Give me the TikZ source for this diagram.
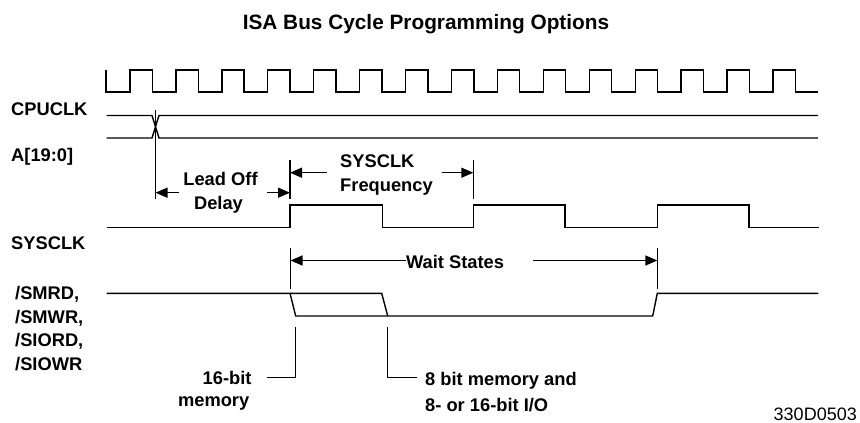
\documentclass[tikz,border=0pt]{standalone}
\usepackage{fontspec}
\setmainfont{Liberation Sans}
\usetikzlibrary{arrows.meta}
\begin{document}
\begin{tikzpicture}[x=1pt,y=-1pt,
  wave/.style={line width=1.4pt, line join=miter, line cap=butt},
  dimline/.style={line width=1.4pt},
  tip/.style={line width=1.4pt,-{Triangle[length=12pt,width=10pt]}},
  lbl/.style={inner sep=0pt, font=\fontsize{18.3}{22}\selectfont\bfseries},
  ttl/.style={inner sep=0pt, font=\fontsize{20.8}{24}\selectfont\bfseries},
  fig/.style={inner sep=0pt, font=\fontsize{18}{22}\selectfont},
]
\useasboundingbox (0,0) rectangle (860,423);

% title
\node[ttl, anchor=base] (title) at (426,30) {ISA Bus Cycle Programming Options};

% signal labels
\node[lbl, anchor=base west] (lcpu) at (11,115.5) {CPUCLK};
\node[lbl, anchor=base west] (laddr) at (11,161) {A[19:0]};
\node[lbl, anchor=base west] (lsys) at (11,249.5) {SYSCLK};
\node[lbl, anchor=base west] (l1) at (15,299.5) {/SMRD,};
\node[lbl, anchor=base west] (l2) at (15,323) {/SMWR,};
\node[lbl, anchor=base west] (l3) at (15,346.5) {/SIORD,};
\node[lbl, anchor=base west] (l4) at (15,370) {/SIOWR};

% CPU clock
\draw[wave] (106,70) -- (106,92)
  \foreach \k in {0,...,14} {
    -- ({130+45.93*\k},92) -- ({130+45.93*\k},70)
    -- ({152.3+45.93*\k},70) -- ({152.3+45.93*\k},92)
  } -- (818,92);

% address lines with crossing
\draw[wave] (106.7,115.5) -- (152,115.5) -- (159,138) -- (818,138);
\draw[wave] (106.7,138) -- (152,138) -- (159,115.5) -- (818,115.5);

% SYSCLK
\draw[wave] (106.7,227.3) -- (290,227.3) -- (290,205) -- (382.3,205) -- (382.3,227.3)
  -- (473.3,227.3) -- (473.3,205) -- (565,205) -- (565,227.3) -- (657.3,227.3)
  -- (657.3,205) -- (749,205) -- (749,227.3) -- (819,227.3);

% strobe signals
\draw[wave] (106.7,293.3) -- (290,293.3) -- (295.7,316) -- (652.7,316) -- (657.3,293.3) -- (818.3,293.3);
\draw[wave] (290,293.3) -- (381.7,293.3) -- (387.7,316);

% Lead off delay
\coordinate (loA) at (155.5,110);
\coordinate (loB) at (155.5,199);
\coordinate (loC) at (290,160);
\coordinate (loD) at (290,199);
\draw[dimline] (loA) -- (loB);
\draw[dimline] (loC) -- (loD);
\node[lbl, anchor=base] (lead1) at (220.5,185) {Lead Off};
\node[lbl, anchor=base] (lead2) at (218.5,209) {Delay};
\coordinate (loL) at (179,192.7);
\coordinate (loR) at (267,192.7);
\draw[tip] (loL) -- (155.5,192.7);
\draw[tip] (loR) -- (290,192.7);

% SYSCLK frequency
\coordinate (fqC) at (473.3,160);
\coordinate (fqD) at (473.3,199);
\draw[dimline] (fqC) -- (fqD);
\node[lbl, anchor=base west] (fq1) at (340,167.3) {SYSCLK};
\node[lbl, anchor=base west] (fq2) at (340,191.7) {Frequency};
\coordinate (fqL) at (326.7,172.7);
\coordinate (fqR) at (441.7,172.7);
\draw[tip] (fqL) -- (290,172.7);
\draw[tip] (fqR) -- (473.3,172.7);

% Wait states
\coordinate (wsA) at (290.5,248);
\coordinate (wsB) at (290.5,289);
\coordinate (wsC) at (657.3,248);
\coordinate (wsD) at (657.3,289);
\draw[dimline] (wsA) -- (wsB);
\draw[dimline] (wsC) -- (wsD);
\node[lbl, anchor=base] (ws) at (455,268.3) {Wait States};
\draw[tip] (ws.west |- 0,260.5) -- (290.5,260.5);
\draw[tip] (533,260.5) -- (657.3,260.5);

% leaders
\node[lbl, anchor=base east] (m16a) at (251.7,384) {16-bit};
\node[lbl, anchor=base] (m16b) at (213.7,406.7) {memory};
\draw[dimline] (295.7,326.7) -- (295.7,377.7) -- (266.7,377.7);
\node[lbl, anchor=base west] (m8a) at (425,385) {8 bit memory and};
\node[lbl, anchor=base west] (m8b) at (425,411.7) {8- or 16-bit I/O};
\draw[dimline] (387.7,326.7) -- (387.7,377.7) -- (416.7,377.7);

% figure number
\node[fig, anchor=base east] (fignum) at (857,420) {330D0503};
\end{tikzpicture}
\end{document}
